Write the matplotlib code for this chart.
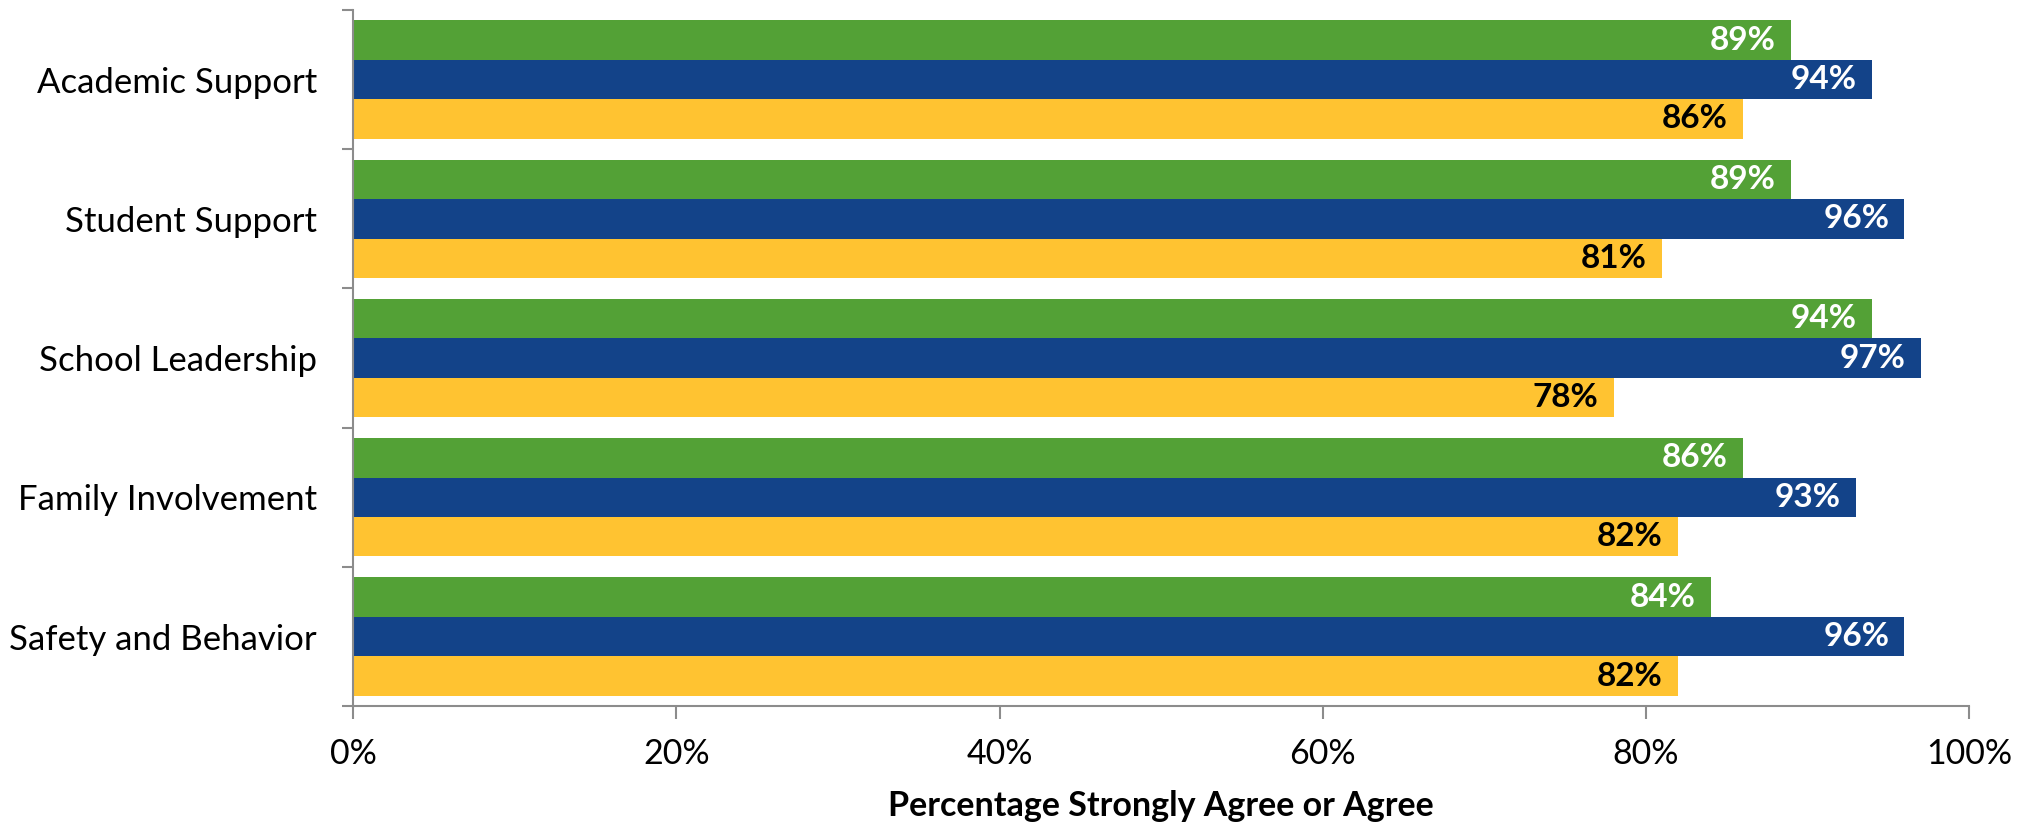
import numpy as np
import matplotlib.pyplot as plt
from matplotlib.ticker import FixedLocator, PercentFormatter

plt.rcParams['font.family'] = ['Lato', 'DejaVu Sans']

categories = ['Academic Support', 'Student Support', 'School Leadership',
              'Family Involvement', 'Safety and Behavior']
green_vals = [89, 89, 94, 86, 84]
blue_vals = [94, 96, 97, 93, 96]
yellow_vals = [86, 81, 78, 82, 82]

series = [
    (green_vals, '#53A136', 'white'),
    (blue_vals, '#134389', 'white'),
    (yellow_vals, '#FFC331', 'black'),
]

fig = plt.figure(figsize=(20.3, 8.26), dpi=100)
ax = fig.add_axes([0.174, 0.145, 0.796, 0.843])

y = np.arange(len(categories))
h = 0.283
offsets = [-h, 0, h]

for (vals, color, txtcol), off in zip(series, offsets):
    bars = ax.barh(y + off, vals, height=h, color=color, edgecolor='none')
    for b, v in zip(bars, vals):
        ax.annotate(f'{v}%', xy=(v, b.get_y() + b.get_height() / 2),
                    xytext=(-11, 0), textcoords='offset points',
                    ha='right', va='center', color=txtcol,
                    fontsize=24, fontweight='bold')

ax.set_xlim(0, 100)
ax.set_ylim(len(categories) - 0.5, -0.5)

ax.xaxis.set_major_locator(FixedLocator([0, 20, 40, 60, 80, 100]))
ax.xaxis.set_major_formatter(PercentFormatter(decimals=0))
ax.set_yticks(np.arange(-0.5, len(categories), 1.0))
ax.set_yticklabels([])
ax.set_yticks(y, minor=True)
ax.set_yticklabels(categories, minor=True)
ax.tick_params(axis='y', which='minor', length=0, pad=26, labelsize=25)
ax.tick_params(axis='y', which='major', length=8, width=1.5, color='#8c8c8c')
ax.tick_params(axis='x', length=9, width=1.5, color='#8c8c8c', labelsize=24.5, pad=14)

for side in ['top', 'right']:
    ax.spines[side].set_visible(False)
for side in ['left', 'bottom']:
    ax.spines[side].set_color('#8c8c8c')
    ax.spines[side].set_linewidth(1.5)

ax.set_xlabel('Percentage Strongly Agree or Agree', fontsize=24.5,
              fontweight='bold', labelpad=14)

fig.savefig('out.png', dpi=100)
